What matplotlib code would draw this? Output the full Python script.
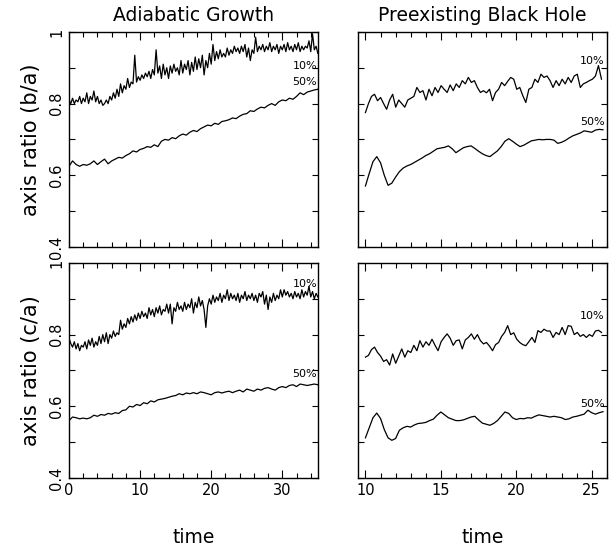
import numpy as np
import matplotlib
matplotlib.use("Agg")
import matplotlib.pyplot as plt
from matplotlib.ticker import MultipleLocator, FuncFormatter

# adiabatic growth, b/a, 10% and 50% mass shells (t = 0..35)
ab_ba_10 = [
    0.81, 0.80, 0.815, 0.80, 0.81, 0.805, 0.82, 0.80,
    0.815, 0.805, 0.83, 0.80, 0.82, 0.81, 0.835, 0.805,
    0.82, 0.80, 0.81, 0.795, 0.80, 0.81, 0.80, 0.82,
    0.81, 0.83, 0.815, 0.84, 0.82, 0.855, 0.83, 0.85,
    0.84, 0.87, 0.845, 0.86, 0.855, 0.935, 0.86, 0.875,
    0.865, 0.88, 0.87, 0.885, 0.875, 0.89, 0.87, 0.895,
    0.88, 0.95, 0.885, 0.905, 0.87, 0.91, 0.88, 0.90,
    0.87, 0.905, 0.885, 0.91, 0.89, 0.90, 0.88, 0.92,
    0.885, 0.91, 0.895, 0.92, 0.88, 0.915, 0.89, 0.93,
    0.895, 0.925, 0.90, 0.935, 0.88, 0.92, 0.90, 0.94,
    0.91, 0.965, 0.92, 0.945, 0.925, 0.95, 0.93, 0.94,
    0.93, 0.955, 0.935, 0.95, 0.94, 0.96, 0.945, 0.955,
    0.94, 0.96, 0.945, 0.965, 0.93, 0.955, 0.92, 0.95,
    0.94, 0.985, 0.945, 0.96, 0.95, 0.965, 0.945, 0.96,
    0.95, 0.97, 0.945, 0.96, 0.95, 0.965, 0.94, 0.96,
    0.95, 0.965, 0.945, 0.97, 0.95, 0.96, 0.945, 0.965,
    0.95, 0.97, 0.945, 0.96, 0.95, 0.96, 0.955, 0.975,
    0.945, 0.995, 0.95, 0.96, 0.94,
]
ab_ba_50 = [
    0.625, 0.64, 0.63, 0.625, 0.63, 0.628, 0.632, 0.64, 0.63, 0.638,
    0.645, 0.632, 0.64, 0.645, 0.65, 0.648, 0.655, 0.66, 0.668, 0.665,
    0.672, 0.675, 0.68, 0.678, 0.685, 0.68, 0.695, 0.70, 0.698, 0.705,
    0.702, 0.71, 0.715, 0.712, 0.72, 0.725, 0.722, 0.73, 0.735, 0.74,
    0.738, 0.745, 0.742, 0.75, 0.752, 0.755, 0.76, 0.758, 0.765, 0.77,
    0.772, 0.78, 0.778, 0.785, 0.79, 0.788, 0.795, 0.80, 0.795, 0.805,
    0.81, 0.808, 0.815, 0.812, 0.82, 0.83, 0.825, 0.832, 0.835, 0.838,
    0.84,
]

# adiabatic growth, c/a
ab_ca_10 = [
    0.79, 0.775, 0.765, 0.78, 0.76, 0.775, 0.755, 0.77,
    0.765, 0.78, 0.76, 0.785, 0.77, 0.79, 0.765, 0.78,
    0.77, 0.795, 0.775, 0.80, 0.78, 0.805, 0.775, 0.80,
    0.79, 0.81, 0.795, 0.805, 0.80, 0.84, 0.815, 0.83,
    0.82, 0.845, 0.83, 0.85, 0.835, 0.855, 0.84, 0.86,
    0.845, 0.865, 0.85, 0.86, 0.845, 0.875, 0.855, 0.87,
    0.85, 0.875, 0.86, 0.88, 0.855, 0.87, 0.865, 0.885,
    0.86, 0.885, 0.83, 0.875, 0.865, 0.89, 0.87, 0.88,
    0.865, 0.89, 0.87, 0.885, 0.875, 0.90, 0.86, 0.89,
    0.875, 0.905, 0.88, 0.895, 0.87, 0.82, 0.88, 0.90,
    0.885, 0.91, 0.89, 0.905, 0.895, 0.915, 0.89, 0.91,
    0.90, 0.925, 0.895, 0.915, 0.90, 0.91, 0.895, 0.915,
    0.89, 0.91, 0.90, 0.92, 0.895, 0.91, 0.90, 0.915,
    0.895, 0.91, 0.89, 0.915, 0.905, 0.92, 0.885, 0.91,
    0.87, 0.905, 0.89, 0.915, 0.895, 0.91, 0.90, 0.925,
    0.905, 0.925, 0.91, 0.92, 0.905, 0.915, 0.90, 0.92,
    0.905, 0.915, 0.90, 0.925, 0.905, 0.92, 0.91, 0.935,
    0.905, 0.92, 0.90, 0.915, 0.905,
]
ab_ca_50 = [
    0.56, 0.57, 0.568, 0.565, 0.567, 0.565, 0.568, 0.575, 0.572, 0.577,
    0.575, 0.58, 0.578, 0.582, 0.58, 0.588, 0.59, 0.60, 0.598, 0.605,
    0.602, 0.61, 0.607, 0.615, 0.612, 0.618, 0.62, 0.622, 0.625, 0.628,
    0.63, 0.635, 0.632, 0.637, 0.635, 0.638, 0.635, 0.64, 0.638, 0.635,
    0.632, 0.638, 0.64, 0.637, 0.64, 0.642, 0.638, 0.642, 0.645, 0.64,
    0.648, 0.645, 0.642, 0.648, 0.645, 0.65, 0.652, 0.648, 0.645, 0.652,
    0.655, 0.652, 0.658, 0.66, 0.655, 0.662, 0.66, 0.658, 0.66, 0.662,
    0.66,
]

# preexisting black hole, b/a (t = 10..25.7)
bh_ba_10 = [
    0.775, 0.80, 0.82, 0.826, 0.808, 0.817, 0.80, 0.784, 0.81, 0.826,
    0.79, 0.81, 0.80, 0.79, 0.81, 0.815, 0.82, 0.845, 0.831, 0.836,
    0.81, 0.84, 0.822, 0.845, 0.831, 0.85, 0.84, 0.831, 0.852, 0.836,
    0.855, 0.845, 0.864, 0.855, 0.873, 0.859, 0.864, 0.845, 0.831, 0.836,
    0.83, 0.84, 0.808, 0.831, 0.84, 0.859, 0.85, 0.862, 0.873, 0.868,
    0.84, 0.845, 0.822, 0.803, 0.84, 0.845, 0.868, 0.859, 0.882, 0.873,
    0.877, 0.864, 0.845, 0.864, 0.85, 0.868, 0.855, 0.873, 0.859, 0.877,
    0.882, 0.845, 0.855, 0.859, 0.864, 0.868, 0.877, 0.906, 0.868,
]
bh_ba_50 = [
    0.57, 0.605, 0.638, 0.652, 0.635, 0.60, 0.572, 0.578, 0.595, 0.61,
    0.62, 0.626, 0.63, 0.636, 0.642, 0.648, 0.655, 0.66, 0.667, 0.674,
    0.676, 0.678, 0.682, 0.674, 0.663, 0.67, 0.677, 0.68, 0.682, 0.675,
    0.667, 0.66, 0.655, 0.652, 0.66, 0.668, 0.68, 0.695, 0.702, 0.695,
    0.687, 0.68, 0.684, 0.69, 0.696, 0.698, 0.70, 0.699, 0.70, 0.70,
    0.698, 0.689, 0.692, 0.697, 0.704, 0.71, 0.714, 0.718, 0.724, 0.722,
    0.72, 0.726, 0.728, 0.727,
]

# preexisting black hole, c/a
bh_ca_10 = [
    0.737, 0.742, 0.758, 0.765, 0.75, 0.74, 0.725, 0.73, 0.715, 0.746,
    0.72, 0.74, 0.76, 0.737, 0.755, 0.75, 0.77, 0.755, 0.783, 0.765,
    0.78, 0.77, 0.787, 0.77, 0.755, 0.78, 0.792, 0.802, 0.79, 0.77,
    0.783, 0.785, 0.76, 0.785, 0.792, 0.802, 0.787, 0.80, 0.783, 0.774,
    0.778, 0.768, 0.755, 0.772, 0.778, 0.795, 0.806, 0.825, 0.80, 0.805,
    0.787, 0.778, 0.772, 0.769, 0.78, 0.792, 0.778, 0.811, 0.806, 0.815,
    0.81, 0.81, 0.792, 0.806, 0.80, 0.82, 0.80, 0.825, 0.823, 0.80,
    0.806, 0.795, 0.80, 0.792, 0.80, 0.795, 0.81, 0.812, 0.806,
]
bh_ca_50 = [
    0.512, 0.54, 0.568, 0.581, 0.566, 0.535, 0.512, 0.505, 0.51, 0.533,
    0.54, 0.544, 0.542, 0.548, 0.552, 0.553, 0.555, 0.56, 0.564, 0.575,
    0.584, 0.576, 0.568, 0.564, 0.56, 0.56, 0.562, 0.566, 0.57, 0.572,
    0.562, 0.553, 0.55, 0.547, 0.552, 0.56, 0.572, 0.584, 0.58, 0.568,
    0.563, 0.566, 0.565, 0.568, 0.567, 0.572, 0.576, 0.574, 0.572, 0.57,
    0.572, 0.57, 0.568, 0.563, 0.565, 0.57, 0.572, 0.575, 0.578, 0.589,
    0.582, 0.578, 0.582, 0.585,
]

titles = ["Adiabatic Growth", "Preexisting Black Hole"]
ylabels = ["axis ratio (b/a)", "axis ratio (c/a)"]

fig = plt.figure(figsize=(6.16, 5.5), dpi=100)

lefts = [0.112, 0.581]
bottoms = [0.551, 0.131]
w, h = 0.404, 0.391


def style_axis(ax, left_col, bottom_row):
    ax.set_ylim(0.4, 1.0)
    if left_col:
        ax.set_xlim(0, 35)
        ax.xaxis.set_major_locator(MultipleLocator(10))
        ax.xaxis.set_minor_locator(MultipleLocator(2))
    else:
        ax.set_xlim(9.5, 26)
        ax.xaxis.set_major_locator(MultipleLocator(5))
        ax.xaxis.set_minor_locator(MultipleLocator(1))
    ax.yaxis.set_major_locator(MultipleLocator(0.2))
    ax.yaxis.set_minor_locator(MultipleLocator(0.1))
    ax.tick_params(which="both", direction="in", top=True, right=True,
                   width=0.8, labelsize=10.5)
    ax.tick_params(axis="x", which="major", length=6)
    ax.tick_params(axis="x", which="minor", length=3.5)
    ax.tick_params(axis="y", which="both", length=4)
    for s in ax.spines.values():
        s.set_linewidth(1.0)
    if left_col:
        ax.yaxis.set_major_formatter(FuncFormatter(lambda v, p: f"{v:g}"))
        for lab in ax.get_yticklabels():
            lab.set_rotation(90)
            lab.set_va("center")
    else:
        ax.set_yticklabels([])
    if not bottom_row:
        ax.set_xticklabels([])


panels = [
    (0, 0, ab_ba_10, ab_ba_50, (0, 35), (0, 35), (0.905, 0.86)),
    (1, 0, bh_ba_10, bh_ba_50, (10, 25.65), (10, 25.75), (0.92, 0.75)),
    (0, 1, ab_ca_10, ab_ca_50, (0, 35), (0, 35), (0.94, 0.69)),
    (1, 1, bh_ca_10, bh_ca_50, (10, 25.65), (10, 25.75), (0.853, 0.606)),
]

for col, row, s10, s50, r10, r50, lab_y in panels:
    ax = fig.add_axes([lefts[col], bottoms[row], w, h])
    t10 = np.linspace(r10[0], r10[1], len(s10))
    t50 = np.linspace(r50[0], r50[1], len(s50))
    ax.plot(t10, s10, color="black", lw=0.9)
    ax.plot(t50, s50, color="black", lw=0.9)
    style_axis(ax, col == 0, row == 1)
    xr = 34.9 if col == 0 else 25.85
    ax.text(xr, lab_y[0], "10%", ha="right", va="center", fontsize=8)
    ax.text(xr, lab_y[1], "50%", ha="right", va="center", fontsize=8)
    if row == 0:
        ax.set_title(titles[col], fontsize=13.5, pad=8)
    if col == 0:
        ax.set_ylabel(ylabels[row], fontsize=15, labelpad=6)
    if row == 1:
        ax.set_xlabel("time", fontsize=13.5, labelpad=22)

fig.savefig("out.png", dpi=100)
